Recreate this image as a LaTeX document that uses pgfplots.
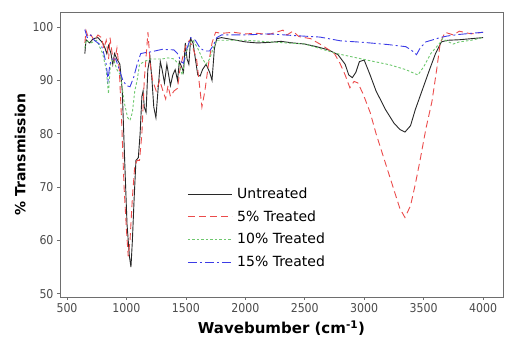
\documentclass[border=0pt]{standalone}
\usepackage{fontspec}
\setmainfont{DejaVu Sans}
\newfontfamily\condfont{DejaVu Sans Condensed}
\usepackage{pgfplots}
\pgfplotsset{compat=1.18}
\definecolor{cblack}{RGB}{40,40,40}
\definecolor{cred}{RGB}{235,75,75}
\definecolor{cgreen}{RGB}{110,200,110}
\definecolor{cblue}{RGB}{60,60,230}
\definecolor{cax}{RGB}{110,110,110}
\begin{document}
\begin{tikzpicture}
\begin{axis}[name=ax,
  scale only axis, width=443pt, height=285pt,
  xmin=441, xmax=4168, ymin=49.4, ymax=102.8,
  xtick={500,1000,...,4000}, ytick={50,60,...,100},
  axis line style={cax, line width=0.9pt},
  tick style={cax, line width=0.7pt},
  tick align=outside, major tick length=3pt,
  xtick pos=bottom, ytick pos=left,
  /pgf/number format/assume math mode=true,
  /pgf/number format/1000 sep={},
  tick label style={font=\condfont\fontsize{12.2}{13}\selectfont, text=black!70},
  xlabel={\bfseries Wavebumber (cm\textsuperscript{-1})},
  ylabel={\bfseries \% Transmission},
  xlabel style={font=\fontsize{15}{16}\selectfont, yshift=-1pt},
  ylabel style={font=\fontsize{14}{15}\selectfont, yshift=0pt},
  legend style={at={(0.287,0.39)}, anchor=north west, draw=none, fill=none,
    font=\fontsize{14}{16}\selectfont, row sep=6.5pt, inner sep=0pt,
    /tikz/every even column/.append style={column sep=0pt}},
  legend cell align=left,
  legend image code/.code={\draw[#1] (0pt,0pt) -- (44pt,0pt);},
  legend style={nodes={inner xsep=5pt}},
  every axis plot/.append style={line width=0.9pt},
]
\addplot[cblack] coordinates {(650,95)(660,97.6)(690,97)(720,97.8)(760,98)(800,97)(820,96)(835,95)(850,96.5)(870,95)(885,93)(900,95)(920,94)(945,93)(965,88)(985,75)(1005,63)(1025,57)(1038,55)(1050,60)(1065,68)(1080,75)(1100,75.5)(1115,80)(1130,87)(1140,88)(1150,85)(1165,84)(1180,92)(1198,94.3)(1215,90)(1230,85)(1248,83)(1265,88)(1285,93.5)(1300,92)(1320,89.5)(1340,93)(1355,91)(1370,89)(1390,91)(1410,92)(1430,90)(1445,93.5)(1465,92.5)(1480,91.5)(1495,97)(1510,94)(1525,93)(1540,97.8)(1560,97)(1580,94)(1600,91)(1620,90.8)(1640,92)(1670,93)(1700,91.5)(1720,90)(1740,96)(1760,97.8)(1800,98)(1900,97.6)(2000,97.2)(2100,97)(2200,97.1)(2300,97.3)(2400,97)(2500,96.8)(2600,96.3)(2700,95.7)(2780,94.8)(2840,93)(2870,91)(2900,90.5)(2930,91.5)(2960,93.5)(3000,93.8)(3050,91)(3100,88)(3180,84.5)(3250,82)(3300,80.8)(3343,80.3)(3390,81.5)(3430,84.5)(3470,87)(3510,89.5)(3550,92)(3600,95)(3650,97.2)(3700,97.5)(3800,97.6)(3900,97.8)(4000,98)};
\addlegendentry{Untreated}
\addplot[cred, dash pattern=on 7pt off 4pt] coordinates {(650,97)(660,99.3)(680,98)(700,98.5)(730,97.5)(760,98.5)(790,98)(810,96)(830,97.5)(850,94)(862,98)(880,95)(900,93.5)(920,96)(940,92)(960,82)(980,70)(1000,62)(1015,57)(1030,60)(1050,68)(1070,74)(1090,75)(1110,75)(1130,80)(1150,90)(1181,99)(1200,93)(1220,90)(1250,88)(1280,90)(1307,88)(1330,86.5)(1350,89)(1370,87)(1400,88)(1430,88.5)(1450,92)(1480,95)(1500,96.5)(1530,97.5)(1560,96)(1590,94)(1610,90)(1635,85)(1660,88)(1690,93)(1720,97)(1750,99)(1800,98.8)(1900,99)(2000,98.7)(2100,98.8)(2200,98.6)(2317,99.4)(2350,98.5)(2400,99.2)(2450,98.2)(2550,97.8)(2650,96.5)(2750,95)(2796,93.2)(2840,91)(2880,88.6)(2915,89.8)(2947,89.5)(2990,87.5)(3050,84)(3100,80)(3150,76.5)(3200,73)(3250,69.5)(3300,66)(3343,64.3)(3390,66.5)(3430,70.5)(3470,75)(3520,81)(3570,86)(3610,92)(3640,97)(3680,99)(3750,98.5)(3800,99.2)(3900,98.7)(4000,99)};
\addlegendentry{5\% Treated}
\addplot[cgreen, dash pattern=on 2.5pt off 2pt] coordinates {(650,96)(660,97.5)(700,97)(750,97.5)(800,95)(830,92)(849,87.5)(865,93)(890,94)(920,92)(950,91)(980,86)(1010,83)(1030,82.5)(1050,84)(1070,88)(1090,90)(1110,93)(1150,93.5)(1200,94)(1300,94)(1350,94.2)(1400,94)(1440,93)(1470,91)(1500,95)(1530,97)(1560,97.5)(1600,96)(1640,94)(1670,93)(1700,94)(1730,96)(1760,97.5)(1800,97.5)(2000,97.5)(2207,97.2)(2500,96.8)(2771,95)(3023,93.8)(3216,92.9)(3350,92)(3452,91)(3500,92.5)(3560,95)(3637,97)(3660,97.8)(3700,97.3)(3750,96.8)(3800,97.2)(3900,97.5)(4000,98)};
\addlegendentry{10\% Treated}
\addplot[cblue, dash pattern=on 9pt off 3pt on 2pt off 3pt] coordinates {(650,99.5)(670,98)(700,98.5)(730,97.5)(760,97)(790,96.5)(810,95)(830,93)(845,90)(860,93)(880,94)(910,94)(940,92)(970,90)(1000,89)(1030,88.8)(1060,90.5)(1090,93)(1120,95)(1160,95.2)(1200,95.3)(1300,95.8)(1400,95.7)(1430,95)(1460,93.5)(1480,93.2)(1510,96)(1540,98)(1580,97.5)(1620,96)(1660,95.5)(1700,95.5)(1730,96.5)(1760,98)(1800,98.5)(2000,98.5)(2200,98.7)(2400,98.4)(2628,98.1)(2800,97.4)(3000,97.1)(3200,96.7)(3351,96.3)(3400,95.6)(3440,94.8)(3470,96)(3519,97.2)(3580,97.6)(3637,98)(3700,98.3)(3800,98.6)(3900,98.8)(4000,99)};
\addlegendentry{15\% Treated}
\end{axis}
\pgfresetboundingbox
\path ([xshift=-60pt,yshift=-42pt]ax.south west) rectangle ([xshift=3pt,yshift=12pt]ax.north east);
\end{tikzpicture}
\end{document}
